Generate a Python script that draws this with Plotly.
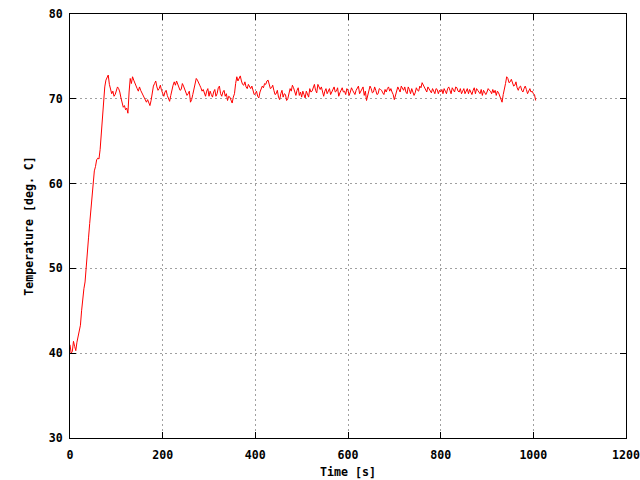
import plotly.graph_objects as go

# Readings on the 5 s grid (t = 0, 5, ..., 1005)
time_main = list(range(0, 1010, 5))
temp_main = [
    41.0, 40.2, 40.8, 41.3, 42.8, 45.0, 47.6, 50.6, 53.6, 56.9,
    60.0, 62.0, 63.0, 64.0, 68.0, 71.4, 72.6, 71.7, 70.6, 70.3,
    71.0, 71.2, 70.1, 69.0, 68.7, 68.3, 72.4, 72.6, 71.8, 71.2,
    71.4, 70.7, 70.1, 69.6, 69.4, 69.8, 71.5, 72.1, 71.0, 71.6,
    70.6, 70.8, 70.4, 69.7, 71.2, 72.0, 72.1, 71.5, 71.1, 71.5,
    70.8, 70.6, 69.6, 70.5, 71.8, 72.2, 71.6, 70.9, 70.6, 70.9,
    70.3, 70.5, 70.8, 70.3, 71.3, 70.6, 70.8, 70.3, 69.8, 70.2,
    69.5, 70.6, 72.6, 72.5, 72.1, 71.6, 71.4, 71.7, 71.2, 70.9,
    70.6, 70.3, 70.8, 71.5, 71.8, 72.1, 71.6, 71.3, 71.0, 70.6,
    70.2, 70.6, 70.2, 70.5, 70.0, 71.2, 71.6, 70.8, 71.0, 70.4,
    70.2, 70.5, 70.9, 70.2, 70.8, 71.4, 71.0, 71.7, 71.1, 70.7,
    70.9, 70.6, 71.2, 70.8, 71.4, 70.9, 70.3, 71.0, 70.8, 70.5,
    71.0, 70.8, 71.0, 70.5, 71.3, 70.6, 71.2, 70.4, 69.8, 71.0,
    71.2, 70.8, 71.0, 70.6, 71.1, 70.7, 71.1, 71.2, 70.9, 70.8,
    69.9, 70.7, 71.1, 71.5, 71.0, 70.8, 71.4, 70.6, 70.8, 70.7,
    71.0, 71.5, 71.9, 71.4, 70.8, 71.2, 70.7, 70.8, 71.2, 70.6,
    70.8, 70.6, 70.9, 71.2, 71.0, 71.3, 70.8, 71.3, 70.8, 70.6,
    71.2, 70.9, 70.6, 70.8, 71.0, 70.6, 71.0, 70.6, 70.4, 70.7,
    70.8, 71.0, 70.6, 70.7, 70.4, 70.7, 69.8, 70.5, 71.8, 72.4,
    72.0, 71.8, 71.6, 71.3, 71.4, 71.0, 71.2, 71.1, 70.9, 70.8,
    70.6, 69.8,
]

# Readings of the jitter in between (t = 2.5, 7.5, ..., 1002.5)
time_mid = [2.5 + 5 * k for k in range(201)]
temp_mid = [
    40.0, 41.4, 40.3, 41.9, 43.3, 46.6, 48.4, 51.8, 55.3, 57.8,
    61.5, 62.8, 62.9, 66.0, 70.3, 72.2, 72.8, 70.9, 70.9, 70.5,
    71.4, 70.8, 69.5, 69.2, 68.9, 70.8, 71.8, 72.2, 71.6, 70.9,
    71.0, 70.4, 70.0, 69.9, 69.2, 70.8, 71.8, 71.4, 71.2, 71.0,
    70.3, 71.0, 70.0, 70.4, 71.6, 71.6, 71.8, 71.0, 71.8, 71.1,
    70.4, 70.9, 69.9, 71.2, 72.4, 71.8, 71.3, 71.1, 70.3, 71.2,
    70.9, 70.2, 71.1, 70.6, 71.5, 70.3, 71.0, 70.6, 70.3, 69.9,
    70.2, 71.8, 72.1, 72.7, 71.7, 72.0, 71.2, 71.5, 71.5, 70.5,
    70.9, 70.1, 71.2, 71.3, 71.7, 72.2, 71.2, 71.6, 70.5, 71.0,
    69.9, 71.0, 70.6, 69.8, 70.8, 70.9, 71.3, 70.4, 71.3, 70.8,
    70.9, 70.1, 70.6, 71.2, 70.9, 71.7, 70.7, 71.3, 71.4, 70.3,
    71.2, 71.0, 70.5, 71.1, 70.8, 71.3, 70.7, 71.3, 70.9, 71.2,
    70.4, 71.3, 70.7, 71.0, 71.5, 70.9, 71.4, 70.9, 70.4, 71.5,
    70.7, 71.4, 70.5, 71.2, 71.0, 70.5, 70.8, 71.4, 71.2, 70.5,
    70.4, 71.4, 70.8, 71.2, 71.4, 70.6, 71.1, 71.2, 70.4, 71.3,
    70.9, 71.3, 71.6, 71.0, 71.4, 71.0, 71.2, 70.6, 71.1, 71.0,
    71.1, 71.2, 70.6, 71.4, 70.6, 71.0, 71.4, 70.9, 71.2, 70.9,
    70.6, 71.2, 71.1, 70.5, 71.3, 71.2, 70.8, 71.1, 71.0, 70.5,
    71.2, 70.9, 71.1, 71.0, 70.9, 70.3, 69.6, 71.0, 72.6, 71.9,
    72.3, 71.5, 72.0, 71.0, 71.5, 70.8, 71.5, 70.6, 71.2, 70.9,
    70.5,
]

pairs = sorted(zip(time_main + time_mid, temp_main + temp_mid))
time_s = [p[0] for p in pairs]
temperature_c = [p[1] for p in pairs]

x_ticks = [0, 200, 400, 600, 800, 1000, 1200]
y_ticks = [30, 40, 50, 60, 70, 80]

font = dict(family="DejaVu Sans Mono", size=11.6, color="black", weight="bold")

fig = go.Figure(
    go.Scatter(
        x=time_s,
        y=temperature_c,
        mode="lines",
        line=dict(color="#ff0000", width=1),
        hoverinfo="skip",
        showlegend=False,
    )
)

axis_common = dict(
    showline=True,
    linecolor="black",
    linewidth=1,
    mirror="allticks",
    ticks="inside",
    ticklen=6,
    tickcolor="black",
    showgrid=True,
    gridcolor="#a0a0a0",
    griddash="2px,3px",
    gridwidth=1,
    zeroline=False,
    tickfont=font,
    automargin=False,
)

fig.update_xaxes(
    range=[0, 1200],
    tickvals=x_ticks,
    ticktext=[str(v) for v in x_ticks],
    title=dict(text="Time [s]", font=font, standoff=6),
    ticklabelstandoff=6,
    **axis_common,
)
fig.update_yaxes(
    range=[30, 80],
    tickvals=y_ticks,
    ticktext=[str(v) for v in y_ticks],
    title=dict(text="Temperature [deg. C]", font=font, standoff=12),
    ticklabelstandoff=4,
    **axis_common,
)

fig.update_layout(
    width=640,
    height=480,
    margin=dict(l=70, r=14, t=14, b=42, pad=0),
    plot_bgcolor="white",
    paper_bgcolor="white",
    font=font,
    hovermode=False,
)

fig.write_html(
    "out.html",
    config={"displayModeBar": False, "staticPlot": True},
    post_script="document.body.style.margin='0';document.body.style.overflow='hidden';",
)
